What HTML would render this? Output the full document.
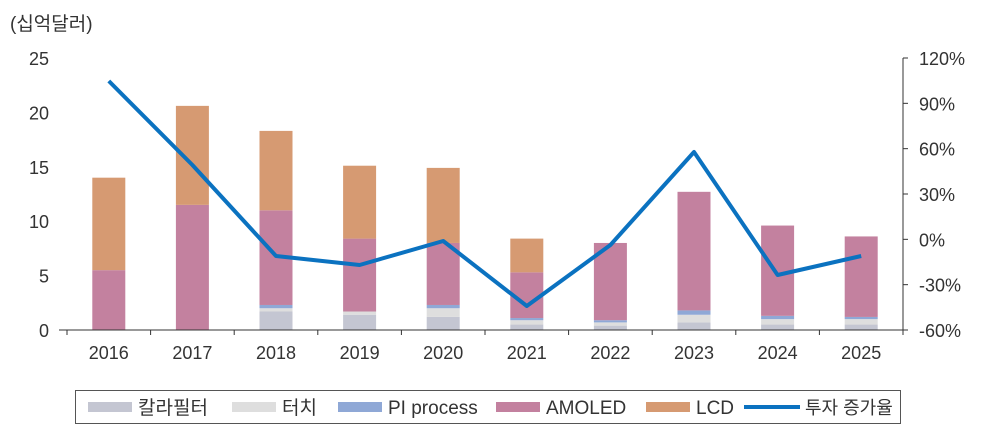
<!DOCTYPE html>
<html><head><meta charset="utf-8">
<style>
body{margin:0;background:#fff;width:983px;height:437px;overflow:hidden}
text{font-family:"Liberation Sans","Noto Sans CJK KR",sans-serif;fill:#333}
</style></head><body>
<svg id="s" width="983" height="437" xmlns="http://www.w3.org/2000/svg"></svg>
<script>
const s=document.getElementById('s');let h='';
const L=67,R=903,B=330,T=58,sp=(R-L)/10,k=(B-T)/25;
const yl=v=>B-v*k, yr=p=>B-(p+60)/180*(B-T);
h+=`<text x="10" y="30" font-size="19">(십억달러)</text>`;
for(let v=0;v<=25;v+=5){h+=`<text x="49" y="${yl(v)+7}" font-size="18" text-anchor="end">${v}</text>`;}
for(let p=-60;p<=120;p+=30){h+=`<line x1="${R}" x2="${R+5}" y1="${yr(p)}" y2="${yr(p)}" stroke="#333"/><text x="${R+16}" y="${yr(p)+7}" font-size="18">${p}%</text>`;}
h+=`<line x1="${R}" x2="${R}" y1="${T}" y2="${B}" stroke="#333"/>`;
const C=['#c4c6d2','#dedede','#8fa8d6','#c3819f','#d69a72'];
const D=[[0,0,0,5.5,8.5],[0,0,0,11.5,9.1],[1.7,0.3,0.3,8.7,7.3],[1.4,0.3,0,6.7,6.7],[1.2,0.8,0.3,5.7,6.9],[0.5,0.4,0.2,4.2,3.1],[0.4,0.3,0.2,7.1,0],[0.7,0.7,0.4,10.9,0],[0.5,0.5,0.3,8.3,0],[0.5,0.5,0.2,7.4,0]];
const Y=[2016,2017,2018,2019,2020,2021,2022,2023,2024,2025];
D.forEach((d,i)=>{const cx=L+sp*(i+0.5);let c=0;d.forEach((v,j)=>{if(v>0){h+=`<rect x="${cx-16.5}" y="${yl(c+v)}" width="33" height="${v*k}" fill="${C[j]}"/>`;c+=v;}});
h+=`<text x="${cx}" y="359" font-size="18" text-anchor="middle">${Y[i]}</text>`;});
for(let i=0;i<=10;i++){const x=L+sp*i;h+=`<line x1="${x}" x2="${x}" y1="${B}" y2="${B+5}" stroke="#333"/>`;}
h+=`<line x1="${L-8}" x2="${R}" y1="${B}" y2="${B}" stroke="#333"/>`;
const P=[81,165,256,265,241,306,245,152,275,256];
h+=`<polyline fill="none" stroke="#0b72c0" stroke-width="4" stroke-linejoin="round" points="${P.map((y,i)=>(L+sp*(i+0.5))+','+y).join(' ')}"/>`;
h+=`<rect x="75.5" y="390.5" width="825" height="33" fill="none" stroke="#555"/>`;
const LG=[['칼라필터',88,C[0]],['터치',232,C[1]],['PI process',338,C[2]],['AMOLED',496,C[3]],['LCD',646,C[4]]];
LG.forEach(([t,x,c])=>{h+=`<rect x="${x}" y="402" width="44" height="10" fill="${c}"/><text x="${x+50}" y="414" font-size="19">${t}</text>`;});
h+=`<line x1="744" x2="800" y1="407" y2="407" stroke="#0b72c0" stroke-width="4"/><text x="805" y="414" font-size="18">투자 증가율</text>`;
s.innerHTML=h;
</script>
</body></html>
